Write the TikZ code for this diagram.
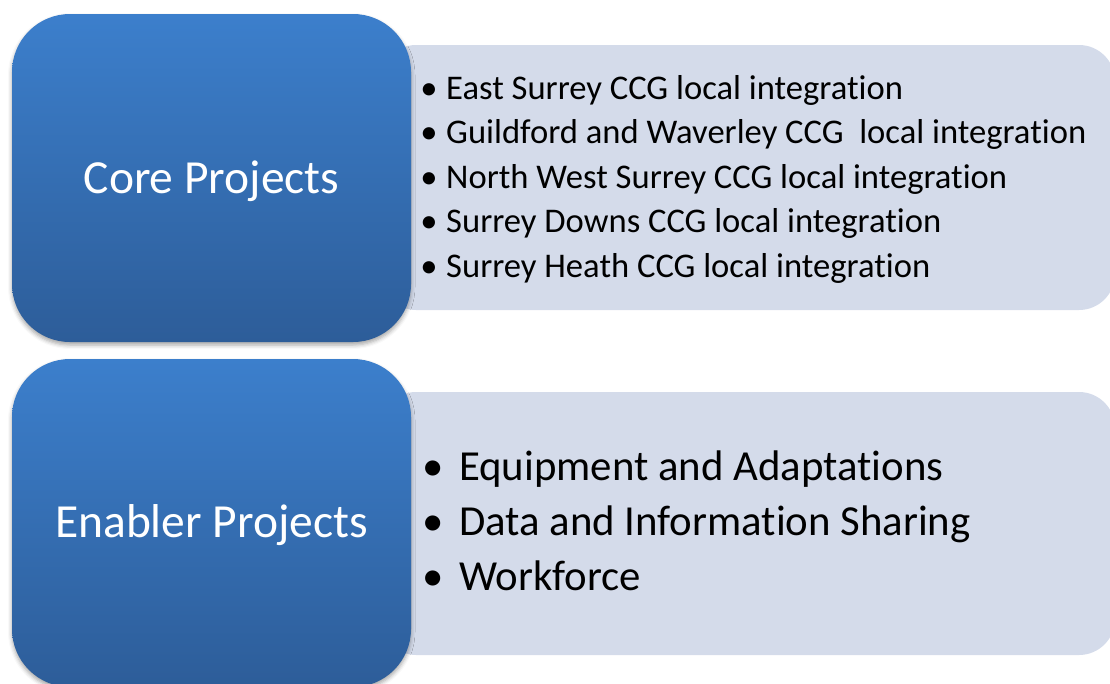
\documentclass[tikz,border=0pt]{standalone}
\usepackage{fontspec}
\setmainfont{Carlito}[Ligatures=NoCommon]
\usetikzlibrary{shadows.blur}
\definecolor{blueTop}{RGB}{60,127,204}
\definecolor{blueBot}{RGB}{45,93,153}
\definecolor{panel}{RGB}{212,219,234}
\tikzset{
  headbox/.style={rounded corners=58pt, top color=blueTop, bottom color=blueBot, draw=none,
    minimum width=399pt, minimum height=328pt, inner sep=0pt,
    blur shadow={shadow xshift=0pt, shadow yshift=-3pt, shadow blur radius=4pt, shadow opacity=35}},
  headtxt/.style={text=white, anchor=base, inner sep=0pt, font=\fontsize{47.5}{52}\selectfont},
  listbox/.style={rounded corners=36pt, fill=panel, draw=none, minimum width=735pt, minimum height=#1, inner sep=0pt},
  smallitem/.style={anchor=base west, inner sep=0pt, font=\fontsize{34.6}{40}\selectfont},
  smallbul/.style={anchor=base, inner sep=0pt, font=\fontsize{34.6}{40}\selectfont},
  bigitem/.style={anchor=base west, inner sep=0pt, font=\fontsize{42.8}{48}\selectfont},
  bigbul/.style={anchor=base, inner sep=0pt, font=\fontsize{42.8}{48}\selectfont}
}
\begin{document}
\begin{tikzpicture}[x=1pt,y=-1pt]
\useasboundingbox (0,0) rectangle (1110,683);
% right panels
\node[listbox=265pt] (p1) at (747.5,177.5) {};
\node[listbox=263pt] (p2) at (747.5,523.5) {};
% blue boxes
\node[headbox] (core) at (211.5,178) {};
\node[headbox] (enab) at (211.5,523) {};
\node[headtxt] (coret) at (211.5,193) {Core Projects};
\node[headtxt] (enabt) at (211.5,537) {Enabler Projects};
% core list
\foreach \t [count=\i] in {East Surrey CCG local integration,
  Guildford and Waverley CCG\ \ local integration,
  North West Surrey CCG local integration,
  Surrey Downs CCG local integration,
  Surrey Heath CCG local integration}{
  \node[smallbul] (cb\i) at (429,{99+44.5*(\i-1)}) {•};
  \node[smallitem] (ct\i) at (446,{99+44.5*(\i-1)}) {\t};
}
% enabler list
\foreach \t [count=\i] in {Equipment and Adaptations,
  Data and Information Sharing,
  Workforce}{
  \node[bigbul] (eb\i) at (433,{480+55*(\i-1)}) {•};
  \node[bigitem] (et\i) at (459,{480+55*(\i-1)}) {\t};
}
\end{tikzpicture}
\end{document}
